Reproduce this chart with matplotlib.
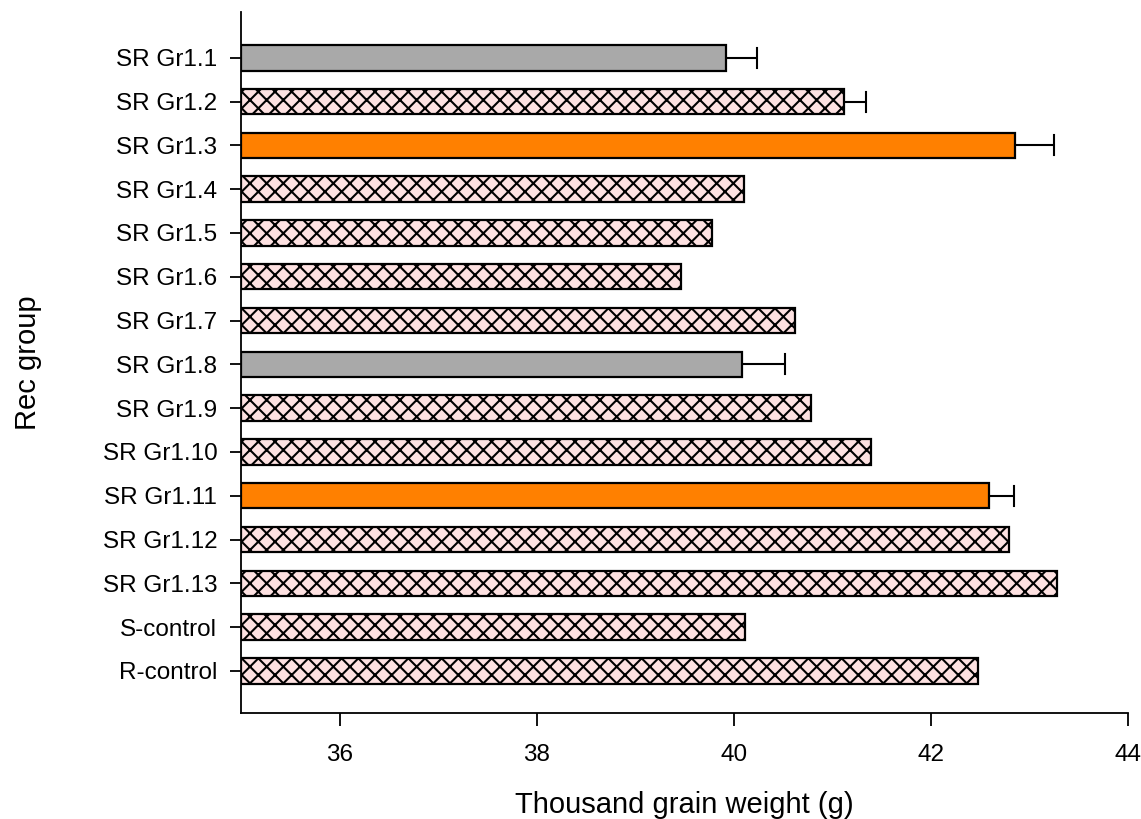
import numpy as np
import matplotlib.pyplot as plt

plt.rcParams['font.family'] = ['Liberation Sans', 'DejaVu Sans']
plt.rcParams['hatch.linewidth'] = 1.5
plt.rcParams['hatch.color'] = 'black'

groups = ['SR Gr1.1', 'SR Gr1.2', 'SR Gr1.3', 'SR Gr1.4', 'SR Gr1.5',
          'SR Gr1.6', 'SR Gr1.7', 'SR Gr1.8', 'SR Gr1.9', 'SR Gr1.10',
          'SR Gr1.11', 'SR Gr1.12', 'SR Gr1.13', 'S-control', 'R-control']
tgw = [39.92, 41.12, 42.85, 40.10, 39.78, 39.46, 40.62, 40.08, 40.78,
       41.39, 42.59, 42.79, 43.28, 40.11, 42.48]
# only some groups have an SE bar
err = [0.32, 0.22, 0.40, 0, 0, 0, 0, 0.44, 0, 0, 0.25, 0, 0, 0, 0]
kind = ['grey', 'hatch', 'orange', 'hatch', 'hatch', 'hatch', 'hatch', 'grey',
        'hatch', 'hatch', 'orange', 'hatch', 'hatch', 'hatch', 'hatch']

fills = {'grey': '#a9a9a9', 'orange': '#ff8000', 'hatch': '#fde1e1'}
base = 35

fig = plt.figure(figsize=(11.41, 8.19), dpi=100)
ax = fig.add_axes([0.2112, 0.1294, 0.7774, 0.8559])

y = np.arange(len(groups))
for i in range(len(groups)):
    ax.barh(y[i], tgw[i] - base, left=base, height=0.58,
            color=fills[kind[i]], edgecolor='black', linewidth=1.6,
            hatch='xx' if kind[i] == 'hatch' else None, zorder=2)
    if err[i] > 0:
        ax.errorbar(tgw[i] + err[i] / 2, y[i], xerr=err[i] / 2, fmt='none',
                    ecolor='black', elinewidth=1.5, capsize=0, zorder=3)
        ax.plot([tgw[i] + err[i]] * 2, [y[i] - 0.23, y[i] + 0.23],
                color='black', lw=1.5, zorder=3)

ax.set_xlim(35, 44)
ax.set_ylim(14.96, -1.045)
ax.set_xticks([36, 38, 40, 42, 44])
ax.set_yticks(y)
ax.set_yticklabels(groups)
ax.tick_params(axis='y', length=8, width=1.3, pad=9, labelsize=17.5)
ax.tick_params(axis='x', length=9, width=1.3, pad=13, labelsize=17.5)
for s in ['top', 'right']:
    ax.spines[s].set_visible(False)
for s in ['left', 'bottom']:
    ax.spines[s].set_linewidth(1.3)

ax.set_xlabel('Thousand grain weight (g)', fontsize=21, labelpad=18)
ax.set_ylabel('Rec group', fontsize=21, labelpad=44)

fig.savefig('out.png', dpi=100)
